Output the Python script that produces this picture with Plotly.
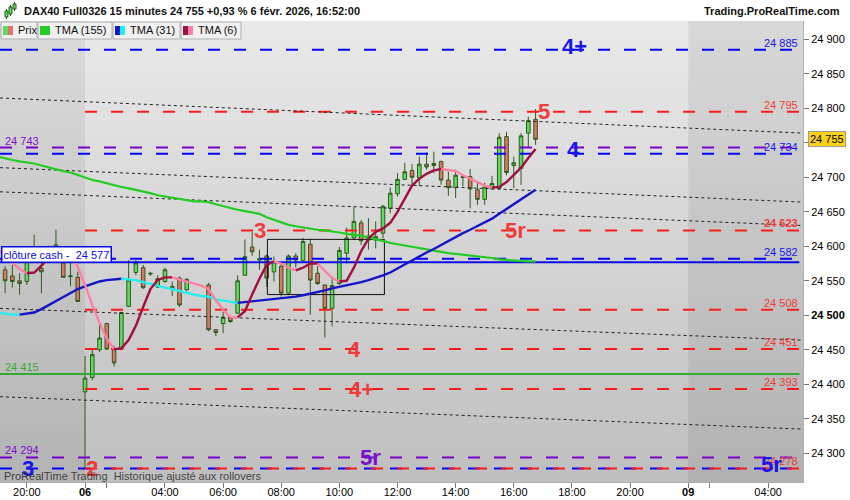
import plotly.graph_objects as go

# candle slots: 0 = 01:15 on Fri 6 Feb, negative = evening of Thu 5 Feb (15 min candles)
candle_idx = list(range(-12, 63))

opens = [24560, 24566, 24557, 24550, 24549, 24583, 24568, 24588, 24583, 24576, 24556, 24555,
         24389, 24410, 24450, 24488, 24450, 24451, 24513, 24562, 24569, 24561, 24541, 24549,
         24538, 24554, 24537, None, None, 24544, 24479, 24488, 24496, 24503, 24558, 24599,
         24580, 24586, 24563, 24571, 24532, 24586, 24579, 24603, 24561, 24544, 24510, 24546,
         24590, 24612, 24634, 24609, 24609, 24619, 24655, 24676, 24697, 24710, 24699, 24719,
         24717, 24723, 24696, 24685, 24701, 24701, 24682, 24668, 24683, 24684, 24759, 24717,
         24713, 24764, 24784]
highs = [24575, 24571, 24573, 24561, 24595, 24617, 24595, 24601, 24624, 24600, 24580, 24563,
         24441, 24451, 24489, 24489, 24456, 24505, 24580, 24580, 24573, 24563, 24558, 24569,
         24549, 24556, 24554, None, None, 24547, 24480, 24505, 24499, 24558, 24610, 24621,
         24595, 24588, 24585, 24576, 24588, 24590, 24612, 24611, 24571, 24544, 24556, 24599,
         24627, 24657, 24638, 24641, 24636, 24660, 24685, 24706, 24721, 24719, 24730, 24736,
         24737, 24724, 24708, 24711, 24703, 24712, 24692, 24692, 24702, 24764, 24766, 24730,
         24764, 24788, 24799]
lows = [24548, 24532, 24540, 24530, 24544, 24577, 24532, 24579, 24580, 24555, 24542, 24520,
        24279, 24406, 24447, 24450, 24426, 24450, 24512, 24558, 24538, 24557, 24540, 24547,
        24528, 24512, 24535, None, None, 24477, 24470, 24474, 24489, 24502, 24557, 24586,
        24566, 24541, 24549, 24527, 24530, 24569, 24578, 24501, 24544, 24468, 24484, 24544,
        24575, 24609, 24602, 24595, 24597, 24612, 24648, 24672, 24696, 24689, 24687, 24711,
        24706, 24689, 24673, 24670, 24687, 24655, 24660, 24660, 24683, 24682, 24703, 24684,
        24689, 24744, 24747]
closes = [24566, 24550, 24549, 24546, 24583, 24592, 24563, 24595, 24602, 24555, 24557, 24520,
          24409, 24443, 24467, 24451, 24431, 24504, 24551, 24576, 24540, 24560, 24553, 24566,
          24542, 24515, 24552, None, None, 24479, 24475, 24497, 24491, 24550, 24585, 24592,
          24582, 24554, 24578, 24532, 24586, 24580, 24607, 24551, 24546, 24510, 24543, 24594,
          24612, 24636, 24608, 24615, 24614, 24658, 24677, 24697, 24708, 24700, 24719, 24715,
          24720, 24696, 24685, 24703, 24700, 24683, 24668, 24686, 24691, 24758, 24707, 24721,
          24760, 24782, 24755]

tma155 = [24730, 24727, 24725, 24723, 24722, 24720, 24717, 24714, 24712, 24709, 24707, 24703,
          24700, 24696, 24694, 24691, 24689, 24686, 24684, 24682, 24679, 24677, 24674, 24672,
          24670, 24668, 24666, 24665, 24665, 24664, 24661, 24658, 24656, 24653, 24651, 24649,
          24647, 24642, 24638, 24635, 24631, 24629, 24627, 24625, 24624, 24623, 24622, 24620,
          24618, 24617, 24615, 24613, 24610, 24607, 24605, 24603, 24601, 24600, 24598, 24596,
          24594, 24592, 24590, 24589, 24588, 24587, 24585, 24584, 24583, 24581, 24580, 24580,
          24579, 24578, 24578]
tma31 = [24504, 24502, 24501, 24501, 24502, 24504, 24509, 24515, 24521, 24526, 24532, 24538,
         24542, 24546, 24549, 24551, 24552, 24553, 24552, 24551, 24548, 24545, 24543, 24540,
         24538, 24535, 24532, 24530, 24528, 24527, 24523, 24521, 24519, 24518, 24519, 24520,
         24522, 24523, 24524, 24525, 24526, 24527, 24529, 24531, 24534, 24536, 24539, 24541,
         24543, 24546, 24548, 24551, 24554, 24558, 24562, 24568, 24573, 24580, 24586, 24591,
         24596, 24602, 24608, 24614, 24619, 24624, 24629, 24635, 24640, 24647, 24654, 24661,
         24668, 24675, 24682]
tma6 = [24595, 24586, 24576, 24567, 24561, 24562, 24572, 24583, 24590, 24593, 24588, 24570,
        24544, 24515, 24489, 24466, 24451, 24452, 24464, 24485, 24512, 24538, 24551, 24555,
        24555, 24552, 24549, 24546, 24543, 24538, 24522, 24508, 24497, 24497, 24506, 24530,
        24553, 24573, 24578, 24575, 24569, 24565, 24569, 24575, 24575, 24565, 24554, 24549,
        24550, 24569, 24593, 24611, 24621, 24626, 24634, 24650, 24670, 24688, 24698, 24705,
        24710, 24712, 24710, 24709, 24703, 24698, 24693, 24688, 24685, 24686, 24693, 24703,
        24714, 24728, 24741]

last_price = 24755
red_levels = [24795, 24623, 24508, 24451, 24393, 24278]
blue_levels = [24885, 24734, 24582, 24278]
purple_levels = [24743, 24294]
green_level = 24415
cash_close = 24577

# dotted channel lines: price at left edge / right edge of the chart
trend_left = [24815, 24714, 24679, 24510, 24382]
trend_right = [24764, 24664, 24630, 24464, 24335]

zone_idx = [25.1, 41.2]
zone_price = [24530, 24610]

big_text = ["4+", "5", "4", "3", "5r", "4", "4+", "5r", "3", "2", "5r"]
big_price = [24885, 24795, 24740, 24623, 24623, 24451, 24393, 24294, 24278, 24278, 24278]
big_kind = ["blue", "red", "blue", "red", "red", "red", "red", "purple", "blue", "red", "blue"]
big_idx = [67.3, 63.2, 67.2, 24.1, 59.3, 37.1, 38.0, 39.3, -7.9, 1.0, 94.4]

x_tick_idx = [-8, 0, 3, 11, 19, 27, 35, 43, 51, 59, 67, 75, 83, 86, 94]
x_tick_text = ["20:00", "<b>06</b>", "", "04:00", "06:00", "08:00", "10:00", "12:00",
               "14:00", "16:00", "18:00", "20:00", "<b>09</b>", "", "04:00"]
y_tick_vals = [24300, 24350, 24400, 24450, 24500, 24550, 24600, 24650, 24700, 24750,
               24800, 24850, 24900]

X_MIN, X_MAX = -11.7, 98.8
Y_MIN, Y_MAX = 24258.4, 24926.5
PR, PT, PB = 803, 21, 482
FONT = "Liberation Sans, Arial, sans-serif"
COL = {"red": "#ff1a1a", "blue": "#0000ff", "purple": "#7a00cc", "green": "#33aa33"}
TXT = {"red": "#ee3b3b", "blue": "#1515ee", "purple": "#7b10cc", "green": "#33aa33"}


def fx(px):
    return px / PR


def fy(py):
    return (PB - py) / (PB - PT)


def fmt(v):
    return f"{v:,}".replace(",", " ")


def split_runs(xs, ys, up, down):
    runs = []
    rx, ry, rc = [xs[0]], [ys[0]], None
    for i in range(1, len(xs)):
        c = up if ys[i] > ys[i - 1] else (down if ys[i] < ys[i - 1] else (rc or up))
        if rc is None:
            rc = c
        if c != rc:
            runs.append((rx, ry, rc))
            rx, ry, rc = [xs[i - 1]], [ys[i - 1]], c
        rx.append(xs[i])
        ry.append(ys[i])
    runs.append((rx, ry, rc))
    return runs


fig = go.Figure()

# horizontal levels
def level(y, color, start, dash="12px,14px", width=2):
    fig.add_trace(go.Scatter(x=[start, 98.3], y=[y, y], mode="lines",
                             line=dict(color=color, width=width, dash=dash),
                             hoverinfo="skip", showlegend=False))

for v in purple_levels:
    level(v, COL["purple"], X_MIN)
for v in blue_levels:
    level(v, COL["blue"], X_MIN)
for v in red_levels:
    level(v, COL["red"], 0)
level(green_level, COL["green"], X_MIN, dash="solid")
level(cash_close, "#0a0ae6", X_MIN, dash="solid")

# channel lines
for a, b in zip(trend_left, trend_right):
    fig.add_trace(go.Scatter(x=[X_MIN, X_MAX], y=[a, b], mode="lines",
                             line=dict(color="#222222", width=1, dash="3px,3px"),
                             hoverinfo="skip", showlegend=False))

# consolidation box
fig.add_trace(go.Scatter(x=[zone_idx[0], zone_idx[1], zone_idx[1], zone_idx[0], zone_idx[0]],
                         y=[zone_price[0], zone_price[0], zone_price[1], zone_price[1], zone_price[0]],
                         mode="lines", line=dict(color="#111111", width=1),
                         hoverinfo="skip", showlegend=False))

cx = [k for k, o in zip(candle_idx, opens) if o is not None]
fig.add_trace(go.Candlestick(
    x=cx,
    open=[o for o in opens if o is not None],
    high=[h for h in highs if h is not None],
    low=[l for l in lows if l is not None],
    close=[c for c in closes if c is not None],
    increasing=dict(fillcolor="#5fdc5f", line=dict(color="#2d5a1b", width=1)),
    decreasing=dict(fillcolor="#e2736b", line=dict(color="#2d5a1b", width=1)),
    whiskerwidth=0, showlegend=False, name="Prix"))

fig.add_trace(go.Scatter(x=candle_idx, y=tma155, mode="lines",
                         line=dict(color="#22cc22", width=2.2), showlegend=False,
                         name="TMA (155)"))
for rx, ry, rc in split_runs(candle_idx, tma31, "#1414c8", "#22f0f0"):
    fig.add_trace(go.Scatter(x=rx, y=ry, mode="lines", line=dict(color=rc, width=2.4),
                             showlegend=False, name="TMA (31)"))
for rx, ry, rc in split_runs(candle_idx, tma6, "#a01040", "#ff7fa2"):
    fig.add_trace(go.Scatter(x=rx, y=ry, mode="lines", line=dict(color=rc, width=2.4),
                             showlegend=False, name="TMA (6)"))

# background gradient + darker off-session areas
shapes = []
n = 46
for i in range(n):
    t = i / (n - 1)
    g = int(round(233 - 42 * t))
    shapes.append(dict(type="rect", xref="paper", yref="paper", x0=0, x1=1,
                       y0=1 - (i + 1) / n, y1=1 - i / n, layer="below", line_width=0,
                       fillcolor=f"rgb({g},{g},{g})"))
shapes.append(dict(type="rect", xref="x", yref="paper", x0=X_MIN, x1=0, y0=0, y1=1,
                   layer="below", line_width=0, fillcolor="rgba(0,0,0,0.06)"))
shapes.append(dict(type="rect", xref="x", yref="paper", x0=83, x1=X_MAX, y0=0, y1=1,
                   layer="below", line_width=0, fillcolor="rgba(0,0,0,0.07)"))

ann = []

# level value labels
for v, c in [(24885, "blue"), (24795, "red"), (24734, "blue"), (24623, "red"),
             (24582, "blue"), (24508, "red"), (24451, "red"), (24393, "red"), (24278, "red")]:
    t = fmt(v)
    if v == 24623:
        t = "<b>" + t + "</b>"
    ann.append(dict(x=fx(800), xref="paper", y=v, yref="y", text=t, showarrow=False,
                    xanchor="right", yanchor="middle", yshift=7,
                    font=dict(family=FONT, size=11, color=TXT[c])))
for v, c in [(purple_levels[0], "purple"), (green_level, "green"), (purple_levels[1], "purple")]:
    ann.append(dict(x=fx(3), xref="paper", y=v, yref="y", text=fmt(v), showarrow=False,
                    xanchor="left", yanchor="middle", yshift=7,
                    font=dict(family=FONT, size=11, color=TXT[c])))

# big level names
shift = {0: 3, 10: 4}
for i, (t, p, k, xi) in enumerate(zip(big_text, big_price, big_kind, big_idx)):
    ann.append(dict(x=xi, y=p, xref="x", yref="y", text="<b>" + t + "</b>", showarrow=False,
                    xanchor="center", yanchor="middle", yshift=shift.get(i, 0),
                    font=dict(family=FONT, size=22, color=TXT[k])))

# cash close tag
ann.append(dict(x=fx(1), xref="paper", y=cash_close, yref="y", yshift=8,
                text="clôture cash -  " + fmt(cash_close), showarrow=False,
                xanchor="left", yanchor="middle", bgcolor="white", bordercolor="#0a0ae6",
                borderwidth=1.5, borderpad=1,
                font=dict(family=FONT, size=11, color="#0a0ae6")))

# last price tag
ann.append(dict(x=fx(808), xref="paper", y=last_price, yref="y", text=fmt(last_price),
                showarrow=False, xanchor="left", yanchor="middle", bgcolor="#fcd116",
                bordercolor="#999999", borderwidth=1, borderpad=1,
                font=dict(family=FONT, size=11, color="black")))

# title bar
ann.append(dict(x=fx(22), y=fy(11), xref="paper", yref="paper", showarrow=False,
                xanchor="left", yanchor="middle",
                text="DAX40 Full0326 15 minutes 24 755 +0,93 % 6 févr. 2026, 16:52:00",
                font=dict(family=FONT, size=11, color="#111111", weight="bold")))
ann.append(dict(x=842 / PR, y=fy(11), xref="paper", yref="paper", showarrow=False,
                xanchor="right", yanchor="middle", text="<b>Trading.ProRealTime.com</b>",
                font=dict(family=FONT, size=11, color="#111111")))
for x0, y0, y1 in [(5, 11, 17), (9, 7, 14), (13, 4, 9)]:
    shapes.append(dict(type="line", xref="paper", yref="paper", x0=fx(x0 + 1.5), x1=fx(x0 + 1.5),
                       y0=fy(y1 + 2), y1=fy(y0 - 2), line=dict(color="#2d5a1b", width=1)))
    shapes.append(dict(type="rect", xref="paper", yref="paper", x0=fx(x0), x1=fx(x0 + 3),
                       y0=fy(y1), y1=fy(y0), fillcolor="#5fdc5f",
                       line=dict(color="#2d5a1b", width=1)))

# legend strip
legend_boxes = [(1, 37, "Prix", ["#5fdc5f", "#e2736b"]),
                (38, 112, "TMA (155)", ["#22cc22", "#22cc22"]),
                (113, 180, "TMA (31)", ["#1414c8", "#22f0f0"]),
                (181, 241, "TMA (6)", ["#a01040", "#ff7fa2"])]
for x0, x1, label, cols in legend_boxes:
    shapes.append(dict(type="rect", xref="paper", yref="paper", x0=fx(x0), x1=fx(x1),
                       y0=fy(39), y1=fy(22), fillcolor="#f0f0f0",
                       line=dict(color="#b0b0b0", width=1), layer="above"))
    shapes.append(dict(type="rect", xref="paper", yref="paper", x0=fx(x0 + 2), x1=fx(x0 + 7),
                       y0=fy(35), y1=fy(26), fillcolor=cols[0], line_width=0, layer="above"))
    shapes.append(dict(type="rect", xref="paper", yref="paper", x0=fx(x0 + 7), x1=fx(x0 + 12),
                       y0=fy(35), y1=fy(26), fillcolor=cols[1], line_width=0, layer="above"))
    ann.append(dict(x=fx(x0 + 15), y=fy(30.5), xref="paper", yref="paper", showarrow=False,
                    xanchor="left", yanchor="middle", text=label,
                    font=dict(family=FONT, size=11, color="#111111")))

ann.append(dict(x=fx(2), y=fy(476), xref="paper", yref="paper", showarrow=False,
                xanchor="left", yanchor="middle",
                text="ProRealTime Trading  Historique ajusté aux rollovers",
                font=dict(family=FONT, size=11, color="rgba(40,40,40,0.85)")))

fig.update_layout(
    width=850, height=500,
    margin=dict(l=0, r=850 - PR, t=PT, b=500 - PB, pad=0, autoexpand=False),
    paper_bgcolor="white", plot_bgcolor="#d8d8d8",
    shapes=shapes, annotations=ann, showlegend=False,
    font=dict(family=FONT, size=11, color="black"),
    xaxis=dict(range=[X_MIN, X_MAX], tickvals=x_tick_idx, ticktext=x_tick_text,
               ticks="outside", ticklen=5, tickcolor="#777777", showgrid=False,
               zeroline=False, showline=True, linecolor="#b0b0b0", ticklabelstandoff=-5,
               rangeslider=dict(visible=False), tickfont=dict(size=11)),
    yaxis=dict(range=[Y_MIN, Y_MAX], side="right", tickvals=y_tick_vals,
               ticktext=[("<b>" + fmt(v) + "</b>") if v == 24500 else fmt(v) for v in y_tick_vals],
               ticks="outside", ticklen=5, tickcolor="#777777", showgrid=False,
               zeroline=False, showline=True, linecolor="#b0b0b0", tickfont=dict(size=11)),
)

# page body margin would push the 850x500 figure out of the window
fig.write_html("out.html", config={"displayModeBar": False},
               post_script="document.body.style.margin='0px';")
